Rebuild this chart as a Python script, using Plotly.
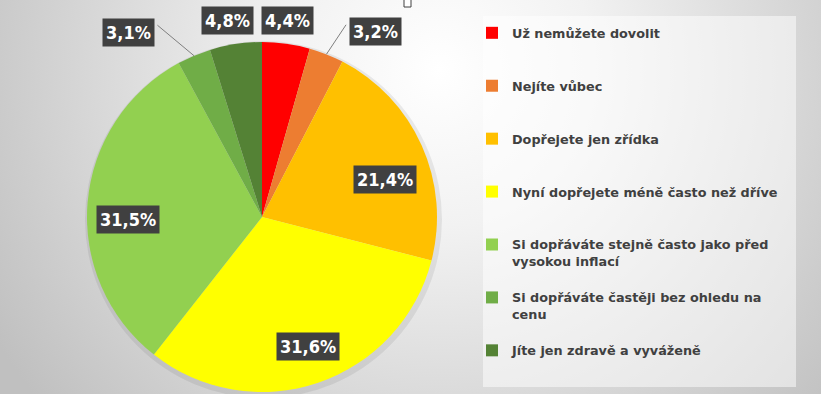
import math
import base64
import plotly.graph_objects as go

# ---- data ----
categories = [
    "Už nemůžete dovolit",
    "Nejíte vůbec",
    "Dopřejete jen zřídka",
    "Nyní dopřejete méně často než dříve",
    "Si dopřáváte stejně často jako před vysokou inflací",
    "Si dopřáváte častěji bez ohledu na cenu",
    "Jíte jen zdravě a vyváženě",
]
values = [4.4, 3.2, 21.4, 31.6, 31.5, 3.1, 4.8]
legend_lines = [
    ["Už nemůžete dovolit"],
    ["Nejíte vůbec"],
    ["Dopřejete jen zřídka"],
    ["Nyní dopřejete méně často než dříve"],
    ["Si dopřáváte stejně často jako před", "vysokou inflací"],
    ["Si dopřáváte častěji bez ohledu na", "cenu"],
    ["Jíte jen zdravě a vyváženě"],
]
colors = ["#FF0000", "#ED7D31", "#FFC000", "#FFFF00", "#92D050", "#70AD47", "#548235"]

# ---- style / layout ----
W, H = 821, 394
CX, CY, R = 262, 217, 175
label_r = [198, 217, 129, 137, 134, 228, 199]          # label distance from centre (px)
label_da = [-0.5, 9.8, 7.1, -0.7, -6.0, -13.0, -1.2]    # angle tweak (deg)
leader = [False, True, False, False, False, True, False]

def px(x):
    return x / W

def py(y):
    return 1 - y / H

# legend names padded to equal number of lines for even spacing (last one unpadded)
names = []
for k, ln in enumerate(legend_lines):
    n = 3 if k < len(legend_lines) - 1 else 1
    pad = ln + ["\u00a0"] * max(0, n - len(ln))
    names.append("<br>".join(pad))

fig = go.Figure(go.Pie(
    labels=names,
    values=values,
    sort=False,
    direction="clockwise",
    rotation=0,
    marker=dict(colors=colors, line=dict(width=0)),
    textinfo="none",
    hoverinfo="skip",
    domain=dict(x=[px(CX - R), px(CX + R)], y=[py(CY + R), py(CY - R)]),
))

# background gradient
svg = ('<svg xmlns="http://www.w3.org/2000/svg" width="821" height="394" viewBox="0 0 821 394" '
       'preserveAspectRatio="none"><defs><radialGradient id="g" cx="440" cy="70" r="520" '
       'gradientUnits="userSpaceOnUse"><stop offset="0" stop-color="#ffffff"/>'
       '<stop offset="0.3" stop-color="#f2f2f2"/><stop offset="1" stop-color="#c0c0c0"/>'
       '</radialGradient></defs><rect width="821" height="394" fill="url(#g)"/></svg>')
uri = "data:image/svg+xml;base64," + base64.b64encode(svg.encode()).decode()

shapes = [
    dict(type="rect", xref="paper", yref="paper", x0=px(483), x1=px(796), y0=py(387), y1=py(16),
         fillcolor="rgba(255,255,255,0.5)", line=dict(width=0), layer="below"),
    # soft shadow behind the pie
    dict(type="circle", xref="paper", yref="paper",
         x0=px(CX - R - 2), x1=px(CX + R + 5), y0=py(CY + R + 6), y1=py(CY - R - 1),
         fillcolor="rgba(0,0,0,0.07)", line=dict(width=0), layer="below"),
    dict(type="rect", xref="paper", yref="paper", x0=px(404), x1=px(411), y0=py(7), y1=py(-2),
         fillcolor="#ffffff", line=dict(width=1, color="#404040"), layer="above"),
]

annotations = []
total = sum(values)
cum = 0.0
for i, v in enumerate(values):
    mid = (cum + v / 2) / total * 360
    cum += v
    a = math.radians(mid + label_da[i])
    lx = CX + label_r[i] * math.sin(a)
    ly = CY - label_r[i] * math.cos(a)
    txt = ("%.1f" % v).replace(".", ",") + "%"
    annotations.append(dict(
        x=px(lx), y=py(ly), xref="paper", yref="paper", text=txt, showarrow=False,
        font=dict(family="DejaVu Sans Condensed, DejaVu Sans", size=18, color="#ffffff", weight="bold"),
        bgcolor="#404040", borderpad=3, xanchor="center", yanchor="middle",
    ))
    if leader[i]:
        am = math.radians(mid)
        ex = CX + R * math.sin(am)
        ey = CY - R * math.cos(am)
        endx = lx - 29 if lx > CX else lx + 29
        endy = ly - 7
        shapes.append(dict(type="line", xref="paper", yref="paper",
                           x0=px(ex), y0=py(ey), x1=px(endx), y1=py(endy),
                           line=dict(color="#7F7F7F", width=1)))

fig.update_layout(
    width=W, height=H,
    margin=dict(l=0, r=0, t=0, b=0),
    paper_bgcolor="#d9d9d9",
    images=[dict(source=uri, xref="paper", yref="paper", x=0, y=1, sizex=1, sizey=1,
                 sizing="stretch", xanchor="left", yanchor="top", layer="below")],
    shapes=shapes,
    annotations=annotations,
    showlegend=True,
    legend=dict(x=px(472), y=py(18), xanchor="left", yanchor="top",
                bgcolor="rgba(0,0,0,0)", borderwidth=0, valign="top",
                font=dict(family="DejaVu Sans", size=12.8, color="#404040", weight="bold"),
                itemclick=False, itemdoubleclick=False),
)

fig.write_html("out.html", config={"displayModeBar": False},
               post_script="document.body.style.margin='0px';")
